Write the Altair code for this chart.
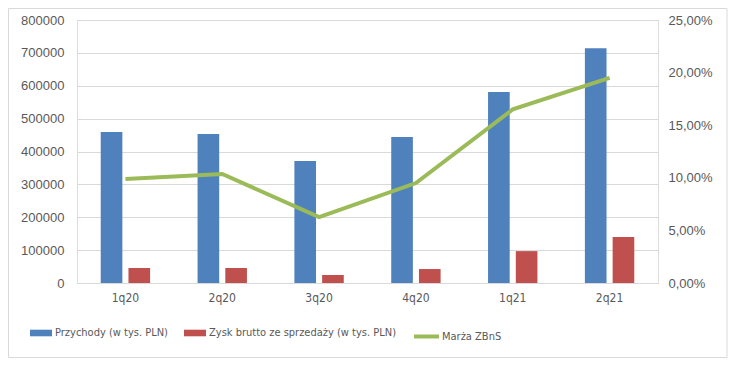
import altair as alt
import pandas as pd

quarters = ["1q20", "2q20", "3q20", "4q20", "1q21", "2q21"]
przychody = [459000, 453000, 371000, 444000, 581000, 714000]
zysk = [45600, 45600, 24000, 42500, 97000, 140000]
marza = [0.0989, 0.1036, 0.0627, 0.0950, 0.1650, 0.1950]
bar_series = ["Przychody (w tys. PLN)", "Zysk brutto ze sprzedaży (w tys. PLN)"]
line_series = "Marża ZBnS"
left_ticks = [0, 100000, 200000, 300000, 400000, 500000, 600000, 700000, 800000]
right_ticks = [0, 0.05, 0.10, 0.15, 0.20, 0.25]

bars_df = pd.DataFrame(
    [{"q": q, "series": bar_series[0], "value": v} for q, v in zip(quarters, przychody)]
    + [{"q": q, "series": bar_series[1], "value": v} for q, v in zip(quarters, zysk)]
)
line_df = pd.DataFrame({"q": quarters, "m": marza, "s": [line_series] * len(quarters)})

BLUE, RED, GREEN = "#4F81BD", "#C0504D", "#9BBB59"
TXT = "#595959"
AXFONT = "Liberation Sans"
NARROW = "DejaVu Sans Condensed, Liberation Sans"

xscale = alt.Scale(domain=quarters, paddingInner=0.49, paddingOuter=0.245)

border = alt.Chart(pd.DataFrame({"a": [0]})).mark_rect(
    filled=False, stroke="#d9d9d9", strokeWidth=1
).encode(
    x=alt.value(-68.5), x2=alt.value(650), y=alt.value(-11.5), y2=alt.value(337.5)
)

bars = alt.Chart(bars_df).mark_bar().encode(
    x=alt.X("q:N", scale=xscale, sort=quarters, title=None,
            axis=alt.Axis(labelFont=NARROW, labelFontSize=12, labelColor=TXT,
                          labelAngle=0, ticks=False, domain=False, labelPadding=9)),
    xOffset=alt.XOffset("series:N", sort=bar_series,
                        scale=alt.Scale(domain=bar_series, paddingInner=0.22, paddingOuter=0)),
    y=alt.Y("value:Q", scale=alt.Scale(domain=[0, 800000]), title=None,
            axis=alt.Axis(values=left_ticks, format="d", labelFont=AXFONT, labelFontSize=13,
                          labelColor=TXT, ticks=False, domain=False, labelPadding=13,
                          gridColor="#d9d9d9", gridWidth=1)),
    color=alt.Color("series:N", sort=bar_series,
                    scale=alt.Scale(domain=bar_series, range=[BLUE, RED]),
                    legend=alt.Legend(title=None, orient="none", direction="horizontal",
                                      legendX=-47, legendY=302,
                                      symbolType="M-1,-0.3H1V0.3H-1Z", symbolSize=484,
                                      symbolStrokeWidth=0, labelFont=NARROW, labelFontSize=11,
                                      labelColor=TXT, labelOffset=3, columnPadding=16,
                                      labelLimit=400)),
)

line = alt.Chart(line_df).mark_line(strokeWidth=4, color=GREEN).encode(
    x=alt.X("q:N", scale=xscale, sort=quarters, title=None),
    y=alt.Y("m:Q", scale=alt.Scale(domain=[0, 0.25]), title=None,
            axis=alt.Axis(orient="right", values=right_ticks, grid=False, ticks=False,
                          domain=False, labelFont=AXFONT, labelFontSize=13, labelColor=TXT,
                          labelPadding=10,
                          labelExpr="replace(format(datum.value, '.2%'), '.', ',')")),
    stroke=alt.Stroke("s:N", scale=alt.Scale(domain=[line_series], range=[GREEN]),
                      legend=alt.Legend(title=None, orient="none", legendX=335, legendY=302,
                                        symbolType="stroke", symbolSize=625,
                                        symbolStrokeWidth=4, labelFont=NARROW,
                                        labelFontSize=11, labelColor=TXT, labelOffset=1,
                                        labelLimit=400)),
)

chart = alt.layer(border, bars, line).resolve_scale(
    y="independent", color="independent", stroke="independent"
).properties(
    width=581, height=263,
    padding={"left": 69, "top": 12, "right": 72, "bottom": 75},
    autosize=alt.AutoSizeParams(type="none"),
).configure_view(stroke=None).configure(background="white")

chart.save("out.html", embed_options={"renderer": "svg", "actions": False})
